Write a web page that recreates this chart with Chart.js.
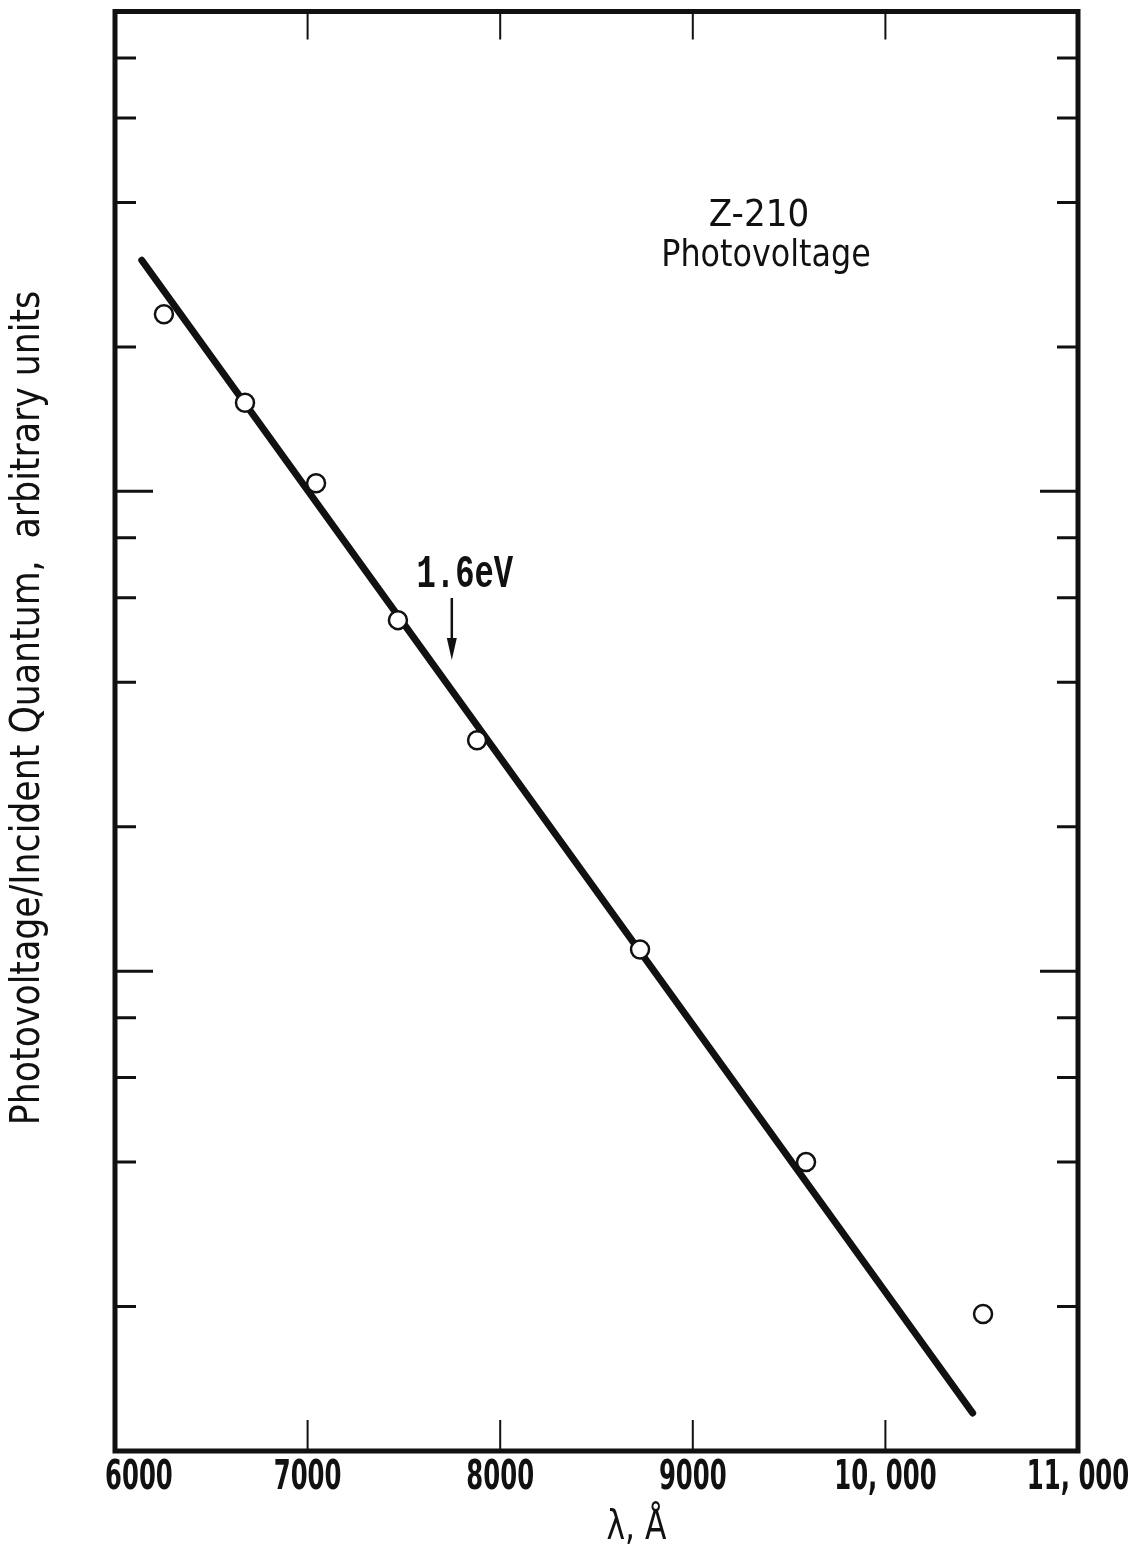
<!DOCTYPE html>
<html lang="en">
  <head>
    <meta charset="UTF-8" />
    <title>Z-210 photovoltage</title>
    <style>
      body { margin: 0; background: #fff; }
      #wrap { width: 1140px; height: 1554px; }
    </style>
  </head>
  <body>
    <div id="wrap">
      <canvas id="pvChart" width="1140" height="1554"></canvas>
    </div>

    <script src="https://cdn.jsdelivr.net/npm/chart.js"></script>

    <script>
      // measured points: wavelength (Å) and photovoltage per incident quantum
      const lambdaA = [6254, 6675, 7044, 7469, 7880, 8726, 9588, 10507];
      const response = [23.4, 15.3, 10.4, 5.39, 3.03, 1.11, 0.40, 0.193];

      // straight fit through the points (log scale)
      const fitLambda = [6139, 10453];
      const fitResponse = [30.3, 0.12];

      const xTickValues = [6000, 7000, 8000, 9000, 10000, 11000];
      const xTickLabels = ["6000", "7000", "8000", "9000", "10, 000", "11, 000"];
      const yDecades = [0.1, 1, 10, 100];
      const yMinor = [0.2, 0.4, 0.6, 0.8, 2, 4, 6, 8, 20, 40, 60, 80];

      // band gap marker, 1.6 eV -> 12398 / 1.6 Å
      const gapLambda = 12398 / 1.6;

      const sans = '"DejaVu Sans Condensed", "DejaVu Sans", sans-serif';
      const mono = '"Liberation Mono", "DejaVu Sans Mono", monospace';
      const ink = "#111";

      // text squeezed horizontally, the old typeset labels are quite narrow
      function narrowText(ctx, text, x, y, sx, align) {
        ctx.save();
        ctx.translate(x, y);
        ctx.scale(sx, 1);
        ctx.textAlign = align;
        ctx.fillText(text, 0, 0);
        ctx.restore();
      }

      const framePlugin = {
        id: "frameTicks",
        afterDraw(chart) {
          const { ctx, chartArea: a, scales } = chart;
          const x = scales.x;
          const y = scales.y;
          ctx.save();
          ctx.strokeStyle = ink;
          ctx.fillStyle = ink;

          // frame
          ctx.lineWidth = 5;
          ctx.strokeRect(a.left, a.top, a.right - a.left, a.bottom - a.top);

          // x ticks, inward on bottom and top
          ctx.lineWidth = 2;
          xTickValues.slice(1, -1).forEach((v) => {
            const px = x.getPixelForValue(v);
            ctx.beginPath();
            ctx.moveTo(px, a.bottom);
            ctx.lineTo(px, a.bottom - 31);
            ctx.moveTo(px, a.top);
            ctx.lineTo(px, a.top + 28);
            ctx.stroke();
          });

          // y ticks, both sides
          ctx.lineWidth = 3;
          const yTick = (v, len) => {
            const py = y.getPixelForValue(v);
            ctx.beginPath();
            ctx.moveTo(a.left, py);
            ctx.lineTo(a.left + len, py);
            ctx.moveTo(a.right, py);
            ctx.lineTo(a.right - len, py);
            ctx.stroke();
          };
          yDecades.slice(1, -1).forEach((v) => yTick(v, 38));
          yMinor.forEach((v) => yTick(v, 21));

          // x tick labels
          ctx.font = "bold 41px " + sans;
          ctx.textBaseline = "middle";
          xTickValues.forEach((v, i) => {
            const px = x.getPixelForValue(v);
            if (i === 0) {
              narrowText(ctx, xTickLabels[i], px - 10, a.bottom + 27, 0.66, "left");
            } else {
              narrowText(ctx, xTickLabels[i], px, a.bottom + 27, 0.66, "center");
            }
          });

          // axis titles
          ctx.font = "41px " + sans;
          narrowText(ctx, "λ, Å", (a.left + a.right) / 2 + 40, a.bottom + 77, 0.85, "center");

          ctx.save();
          ctx.translate(a.left - 86, 708);
          ctx.rotate(-Math.PI / 2);
          ctx.font = "40px " + sans;
          narrowText(ctx, "Photovoltage/Incident Quantum,  arbitrary units", 0, 0, 0.965, "center");
          ctx.restore();

          // sample name
          ctx.font = "38px " + sans;
          narrowText(ctx, "Z-210", 759, 216, 1.0, "center");
          narrowText(ctx, "Photovoltage", 766, 256, 0.93, "center");

          // 1.6 eV label and arrow
          const gx = x.getPixelForValue(gapLambda);
          ctx.font = "bold 46px " + mono;
          narrowText(ctx, "1.6eV", gx + 13, 575, 0.7, "center");
          ctx.lineWidth = 2.5;
          ctx.beginPath();
          ctx.moveTo(gx, 598);
          ctx.lineTo(gx, 645);
          ctx.stroke();
          ctx.beginPath();
          ctx.moveTo(gx - 5, 638);
          ctx.lineTo(gx + 5, 638);
          ctx.lineTo(gx, 660);
          ctx.closePath();
          ctx.fill();

          ctx.restore();
        },
      };

      const ctx = document.getElementById("pvChart");

      new Chart(ctx, {
        type: "scatter",
        data: {
          datasets: [
            {
              label: "fit",
              data: fitLambda.map((l, i) => ({ x: l, y: fitResponse[i] })),
              showLine: true,
              borderColor: ink,
              borderWidth: 7,
              borderCapStyle: "round",
              pointRadius: 0,
              order: 2,
            },
            {
              label: "measured",
              data: lambdaA.map((l, i) => ({ x: l, y: response[i] })),
              pointRadius: 9,
              pointBorderWidth: 2.5,
              pointBorderColor: ink,
              pointBackgroundColor: "#fff",
              order: 1,
            },
          ],
        },
        options: {
          responsive: false,
          animation: false,
          layout: {
            padding: { left: 115, top: 11, right: 62, bottom: 103 },
          },
          plugins: {
            legend: { display: false },
            tooltip: { enabled: false },
          },
          scales: {
            x: {
              type: "linear",
              min: 6000,
              max: 11000,
              display: false,
            },
            y: {
              type: "logarithmic",
              min: 0.1,
              max: 100,
              display: false,
            },
          },
        },
        plugins: [framePlugin],
      });
    </script>
  </body>
</html>
